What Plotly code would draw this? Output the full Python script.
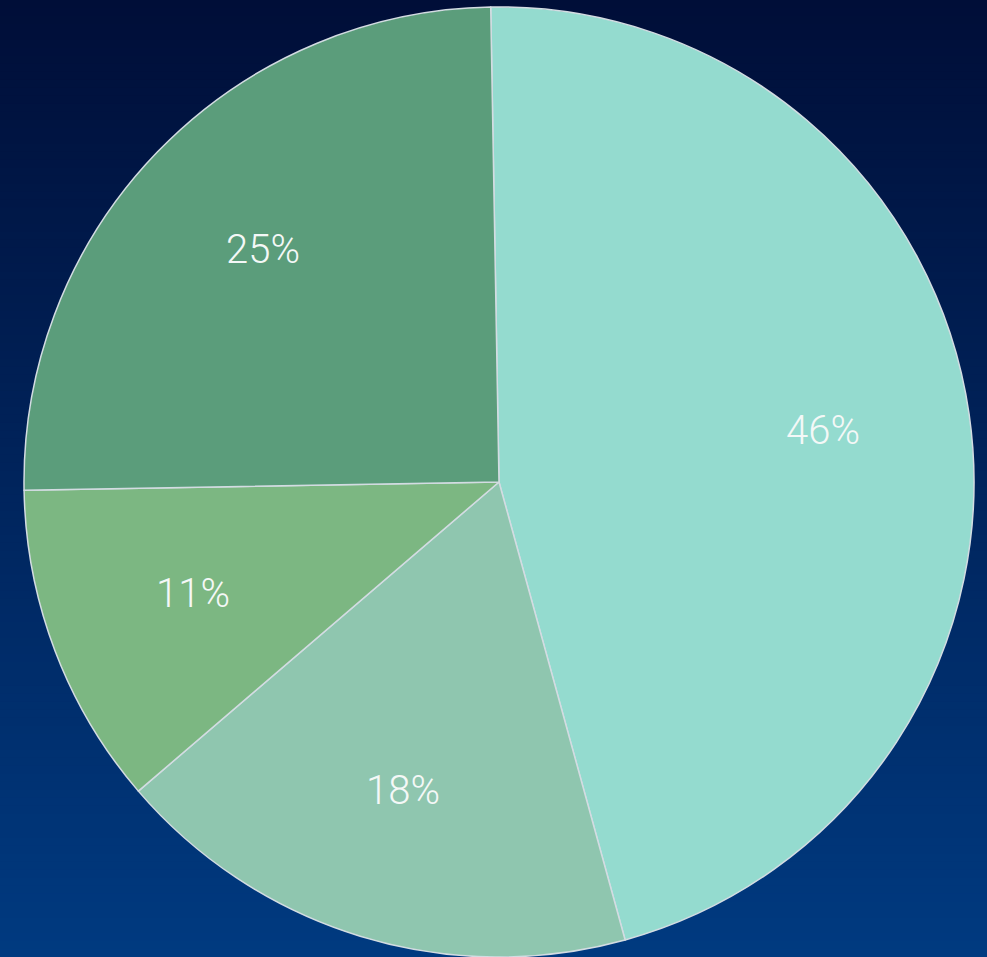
import math
import plotly.graph_objects as go

# Slice values (clockwise from 12 o'clock)
labels = ["A", "B", "C", "D"]
values = [46, 18, 11, 25]
colors = ["#94DBCF", "#8FC6AF", "#7CB782", "#5B9D7B"]

W, H = 987, 957
ROTATION = -1          # start angle, degrees clockwise from 12 o'clock
CX, CY, R = 499, 482, 475   # pie centre / radius in pixels
LABEL_R = 0.69         # label distance as a fraction of the radius
LABEL_DY = -5          # small upward nudge of the label centres, px

# Vertical background gradient (top -> bottom)
top_rgb = (0, 14, 56)
bottom_rgb = (0, 58, 128)
n_bands = 120

shapes = []
for i in range(n_bands):
    t = i / (n_bands - 1)
    r = round(top_rgb[0] + (bottom_rgb[0] - top_rgb[0]) * t)
    g = round(top_rgb[1] + (bottom_rgb[1] - top_rgb[1]) * t)
    b = round(top_rgb[2] + (bottom_rgb[2] - top_rgb[2]) * t)
    y1 = 1 - i / n_bands
    y0 = 1 - (i + 1) / n_bands - 0.002
    shapes.append(dict(
        type="rect", xref="paper", yref="paper",
        x0=0, x1=1, y0=max(y0, 0), y1=y1,
        fillcolor=f"rgb({r},{g},{b})", line=dict(width=0), layer="below",
    ))

# Percentage labels placed along each slice's mid-angle
total = sum(values)
annotations = []
cum = 0
for v in values:
    mid = math.radians(ROTATION + (cum + v / 2) / total * 360)
    cum += v
    px = CX + LABEL_R * R * math.sin(mid)
    py = CY + LABEL_DY - LABEL_R * R * math.cos(mid)
    annotations.append(dict(
        x=px / W, y=1 - py / H, xref="paper", yref="paper",
        text=f"{round(v / total * 100)}%", showarrow=False,
        xanchor="center", yanchor="middle",
        font=dict(family="Roboto", size=40, color="#F4F8F7", weight=300),
    ))

# Pie domain chosen so the pie sits at (CX, CY) with radius R
dom_x = [(CX - (W - CX)) / W if CX * 2 > W else 0, 1.0]
dom_y = [1 - (CY + R) / H, 1 - (CY - R) / H]

fig = go.Figure(go.Pie(
    labels=labels,
    values=values,
    sort=False,
    direction="clockwise",
    rotation=ROTATION,
    marker=dict(colors=colors, line=dict(color="#D3DCE2", width=1.5)),
    textinfo="none",
    hoverinfo="label+percent",
    domain=dict(x=dom_x, y=[max(dom_y[0], 0), min(dom_y[1], 1)]),
    showlegend=False,
))

fig.update_layout(
    width=W, height=H,
    margin=dict(l=0, r=0, t=0, b=0),
    paper_bgcolor="#001A4F",
    plot_bgcolor="rgba(0,0,0,0)",
    shapes=shapes,
    annotations=annotations,
)

fig.write_html("out.html")
